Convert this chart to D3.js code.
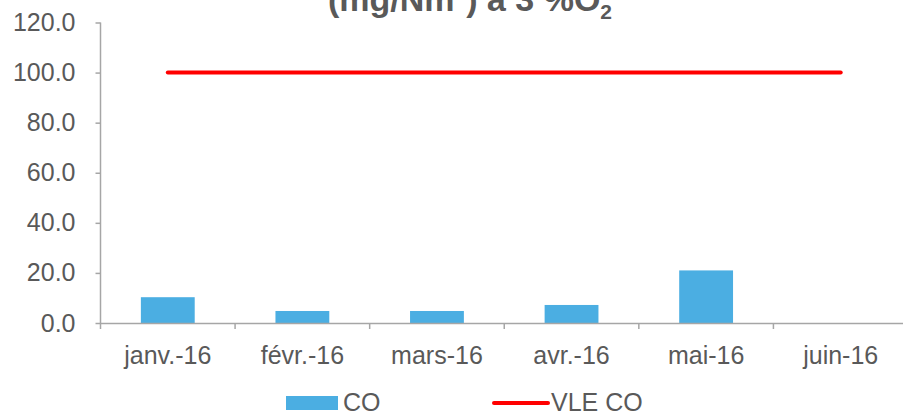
<!DOCTYPE html>
<html><head><meta charset="utf-8">
<script src="https://cdn.jsdelivr.net/npm/d3@7"></script>
<style>body{margin:0;background:#fff;} svg{display:block;font-family:"Liberation Sans",Arial,sans-serif;}</style>
</head><body>
<svg id="c" width="903" height="414"></svg>
<script>
const categories = ["janv.-16","févr.-16","mars-16","avr.-16","mai-16","juin-16"];
const coValues = [10.3, 4.8, 4.8, 7.2, 21.0, null];
const vleValues = [100, 100, 100, 100, 100, 100];
const yTicks = [0,20,40,60,80,100,120];

const svg = d3.select("#c");
const x = d3.scaleBand().domain(categories).range([100.5, 908]).paddingInner(0.6).paddingOuter(0.3);
const xAx = d3.scaleBand().domain(categories).range([100.5, 908]);
const y = d3.scaleLinear().domain([0,120]).range([323, 22.5]);
const txt = "#595959", axc = "#A6A6A6";
const FS = "25px";

// title
const t = svg.append("text").attr("x", 470).attr("y", 11).attr("text-anchor","middle")
  .style("font-size", "34px").attr("font-weight","bold").attr("fill", txt);
t.append("tspan").text("(mg/Nm");
t.append("tspan").style("font-size","21px").attr("dy",-13).text("3");
t.append("tspan").attr("dy",13).text(") à 3 %O");
t.append("tspan").style("font-size","21px").attr("dy",8).text("2");

// bars
svg.selectAll("rect.bar").data(categories.map((c,i)=>({c,v:coValues[i]})).filter(d=>d.v!=null))
  .enter().append("rect").attr("class","bar")
  .attr("x", d=>x(d.c)).attr("width", x.bandwidth())
  .attr("y", d=>y(d.v)).attr("height", d=>y(0)-y(d.v)).attr("fill","#4BAEE2");

// y axis
const yAxis = d3.axisLeft(y).tickValues(yTicks).tickSize(5).tickPadding(20).tickFormat(d3.format(".1f"));
const ga = svg.append("g").attr("transform","translate(100.5,0)").call(yAxis);
ga.attr("font-size",null).attr("font-family",null);
ga.select(".domain").attr("stroke",axc).attr("stroke-width",1.5).attr("d","M0,22.5V323");
ga.selectAll(".tick line").attr("stroke",axc).attr("stroke-width",1.5);
ga.selectAll("text").attr("fill",txt).style("font-size",FS);

// x axis
const xAxis = d3.axisBottom(xAx).tickSize(0).tickPadding(23.5);
const gx = svg.append("g").attr("transform","translate(0,323)").call(xAxis);
gx.attr("font-size",null).attr("font-family",null);
gx.select(".domain").attr("stroke",axc).attr("stroke-width",1.5);
gx.selectAll("text").attr("fill",txt).style("font-size",FS);
gx.selectAll("line.sep").data(categories).enter().append("line").attr("class","sep")
  .attr("x1",d=>xAx(d)).attr("x2",d=>xAx(d)).attr("y1",0).attr("y2",6)
  .attr("stroke",axc).attr("stroke-width",1.5);

// VLE line
const line = d3.line().x((d,i)=>x(categories[i])+x.bandwidth()/2).y(d=>y(d));
svg.append("path").datum(vleValues).attr("d",line).attr("fill","none")
  .attr("stroke","#FF0000").attr("stroke-width",4).attr("stroke-linecap","round");

// legend
const lg = svg.append("g");
lg.append("rect").attr("x",286).attr("y",396).attr("width",52).attr("height",14).attr("fill","#4BAEE2");
lg.append("text").attr("x",343).attr("y",411).style("font-size",FS).attr("fill",txt).text("CO");
lg.append("line").attr("x1",494).attr("x2",548).attr("y1",403).attr("y2",403)
  .attr("stroke","#FF0000").attr("stroke-width",4).attr("stroke-linecap","round");
lg.append("text").attr("x",551).attr("y",411).style("font-size",FS).attr("fill",txt).text("VLE CO");
</script>
</body></html>
